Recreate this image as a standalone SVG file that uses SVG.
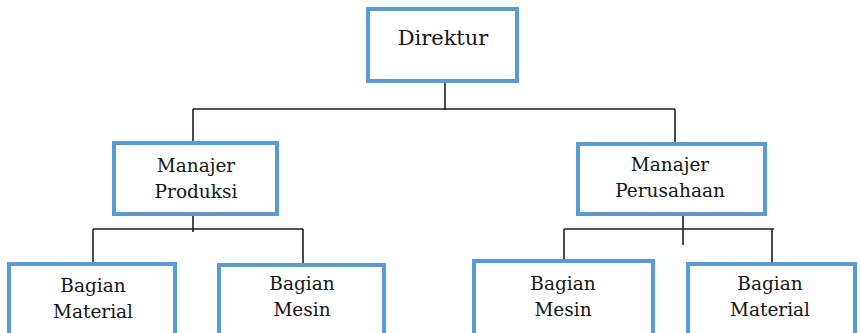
<svg xmlns="http://www.w3.org/2000/svg" width="860" height="333" viewBox="0 0 860 333">
<style>
.box{fill:#fff;stroke:#5B9BD5;stroke-width:4}
.lbl{font-family:"DejaVu Serif","Liberation Serif",serif;font-size:18.5px;fill:#141414;text-anchor:middle}
.big{font-size:21px}
.con{stroke:#1e1e1e;stroke-width:1.6;fill:none}
</style>
<rect width="860" height="333" fill="#fff"/>
<g id="connectors">
<path class="con" d="M445 83V110M193 109H675M193 109V141M675 109V145"/>
<path class="con" d="M193 216V232M93 229H303M93 229V262M303 229V263"/>
<path class="con" d="M683 216V245M564 229H774M564 229V260M772 229V262"/>
</g>
<g id="direktur">
<rect class="box" x="368" y="9" width="149" height="72"/>
<text class="lbl big" x="443" y="45">Direktur</text>
</g>
<g id="manajer-produksi">
<rect class="box" x="114" y="143" width="163" height="71"/>
<text class="lbl" x="196" y="172">Manajer</text>
<text class="lbl" x="196" y="198">Produksi</text>
</g>
<g id="manajer-perusahaan">
<rect class="box" x="578" y="144" width="187" height="70"/>
<text class="lbl" x="670" y="171">Manajer</text>
<text class="lbl" x="670" y="197">Perusahaan</text>
</g>
<g id="bagian-material-1">
<rect class="box" x="9" y="264" width="166" height="90"/>
<text class="lbl" x="93" y="292">Bagian</text>
<text class="lbl" x="93" y="318">Material</text>
</g>
<g id="bagian-mesin-1">
<rect class="box" x="219" y="265" width="165" height="90"/>
<text class="lbl" x="302" y="290">Bagian</text>
<text class="lbl" x="302" y="316">Mesin</text>
</g>
<g id="bagian-mesin-2">
<rect class="box" x="474" y="261" width="179" height="90"/>
<text class="lbl" x="563" y="290">Bagian</text>
<text class="lbl" x="563" y="316">Mesin</text>
</g>
<g id="bagian-material-2">
<rect class="box" x="688" y="264" width="167" height="90"/>
<text class="lbl" x="770" y="290">Bagian</text>
<text class="lbl" x="770" y="316">Material</text>
</g>
</svg>
